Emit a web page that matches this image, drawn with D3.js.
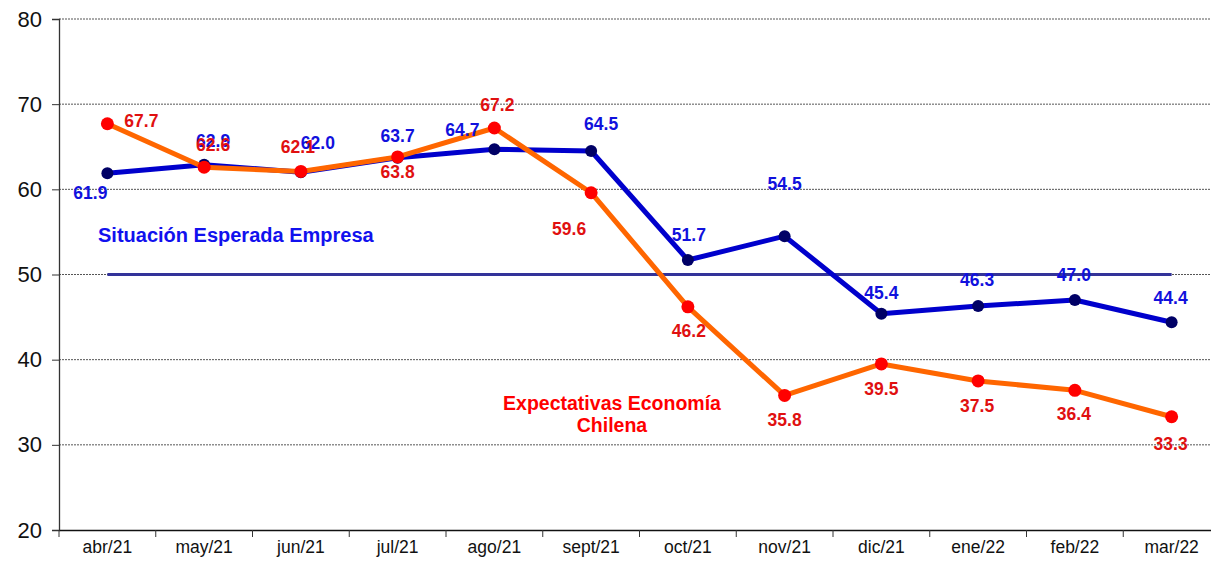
<!DOCTYPE html>
<html><head><meta charset="utf-8">
<script src="https://cdn.jsdelivr.net/npm/d3@7"></script>
<style>
html,body{margin:0;padding:0;background:#fff;}
svg{display:block;font-family:"Liberation Sans",Arial,sans-serif;}
</style></head>
<body><svg id="c" width="1211" height="561"></svg>
<script>
const months = ["abr/21","may/21","jun/21","jul/21","ago/21","sept/21","oct/21","nov/21","dic/21","ene/22","feb/22","mar/22"];
const empresa = [61.9,62.9,62.0,63.7,64.7,64.5,51.7,54.5,45.4,46.3,47.0,44.4];
const economia = [67.7,62.6,62.1,63.8,67.2,59.6,46.2,35.8,39.5,37.5,36.4,33.3];
const yTicks = [20,30,40,50,60,70,80];
const refLevel = 50;

// label placement (layout only)
const empresaLabelOff = [[-17,26],[9,-18],[17,-23],[0,-16],[-32,-13],[10,-21],[1,-19],[0,-46],[0,-15],[-1,-20],[-1,-19],[-1,-18]];
const economiaLabelOff = [[34,3],[9,-16],[-3,-18],[0,21],[3,-17],[-22,42],[1,30],[0,31],[0,31],[-1,31],[-1,30],[-1,33]];

const svg = d3.select("#c");
const L = 59, R = 1220, T = 19, B = 530;
const x = d3.scaleBand().domain(months).range([L, R]);
const y = d3.scaleLinear().domain([20, 80]).range([B, T]);
const cx = m => x(m) + x.bandwidth()/2;
const FF = "Liberation Sans, Arial, sans-serif";

// gridlines
svg.append("g").selectAll("line").data(yTicks.filter(v => v > 20)).join("line")
  .attr("x1", L).attr("x2", 1211).attr("y1", d => y(d)).attr("y2", d => y(d))
  .attr("stroke", "#555").attr("stroke-width", 1).attr("stroke-dasharray", "2,1");

// y axis
const ya = svg.append("g").attr("transform", `translate(${L},0)`)
  .call(d3.axisLeft(y).tickValues(yTicks).tickSize(7).tickPadding(10).tickFormat(d3.format("d")));
ya.select(".domain").attr("stroke", "#333").attr("stroke-width", 1.3);
ya.selectAll(".tick line").attr("stroke", "#333");
ya.selectAll("text").attr("font-size", 22).attr("fill", "#111").attr("font-family", FF);

// x axis
const xa = svg.append("g").attr("transform", `translate(0,${B})`)
  .call(d3.axisBottom(x).tickSize(0).tickPadding(11));
xa.select(".domain").attr("stroke", "#111").attr("stroke-width", 1.3);
xa.selectAll("text").attr("font-size", 17.5).attr("fill", "#111").attr("font-family", FF);
const bounds = [L, ...months.map(m => x(m) + x.bandwidth())];
svg.append("g").selectAll("line").data(bounds).join("line")
  .attr("x1", d => d).attr("x2", d => d).attr("y1", B).attr("y2", B + 7)
  .attr("stroke", "#333").attr("stroke-width", 1);

// reference line at 50
svg.append("line")
  .attr("x1", cx(months[0])).attr("x2", cx(months[months.length-1]))
  .attr("y1", y(refLevel)).attr("y2", y(refLevel))
  .attr("stroke", "#333399").attr("stroke-width", 3);

const line = d3.line().x((d,i) => cx(months[i])).y(d => y(d));

// empresa series
svg.append("path").datum(empresa).attr("d", line)
  .attr("fill", "none").attr("stroke", "#0000CC").attr("stroke-width", 5).attr("stroke-linejoin", "round");
svg.append("g").selectAll("circle").data(empresa).join("circle")
  .attr("cx", (d,i) => cx(months[i])).attr("cy", d => y(d)).attr("r", 6).attr("fill", "#000066");

// economia series
svg.append("path").datum(economia).attr("d", line)
  .attr("fill", "none").attr("stroke", "#FF6600").attr("stroke-width", 5).attr("stroke-linejoin", "round");
svg.append("g").selectAll("circle").data(economia).join("circle")
  .attr("cx", (d,i) => cx(months[i])).attr("cy", d => y(d)).attr("r", 6.5).attr("fill", "#FF0000");

// labels
svg.append("g").selectAll("text").data(empresa).join("text")
  .attr("x", (d,i) => cx(months[i]) + empresaLabelOff[i][0])
  .attr("y", (d,i) => y(d) + empresaLabelOff[i][1])
  .attr("text-anchor", "middle").attr("font-size", 17.5).attr("font-weight", "bold")
  .attr("fill", "#1111DD").text(d => d.toFixed(1));
svg.append("g").selectAll("text").data(economia).join("text")
  .attr("x", (d,i) => cx(months[i]) + economiaLabelOff[i][0])
  .attr("y", (d,i) => y(d) + economiaLabelOff[i][1])
  .attr("text-anchor", "middle").attr("font-size", 17.5).attr("font-weight", "bold")
  .attr("fill", "#E01010").text(d => d.toFixed(1));

// series annotations
svg.append("text").attr("x", 98).attr("y", 242).attr("font-size", 20).attr("font-weight", "bold")
  .attr("fill", "#1111EE").text("Situación Esperada Empresa");
const ann = svg.append("text").attr("text-anchor", "middle").attr("font-size", 19.5).attr("font-weight", "bold").attr("fill", "#FF0000");
ann.append("tspan").attr("x", 612).attr("y", 410).text("Expectativas Economía");
ann.append("tspan").attr("x", 612).attr("y", 432).text("Chilena");
</script></body></html>
